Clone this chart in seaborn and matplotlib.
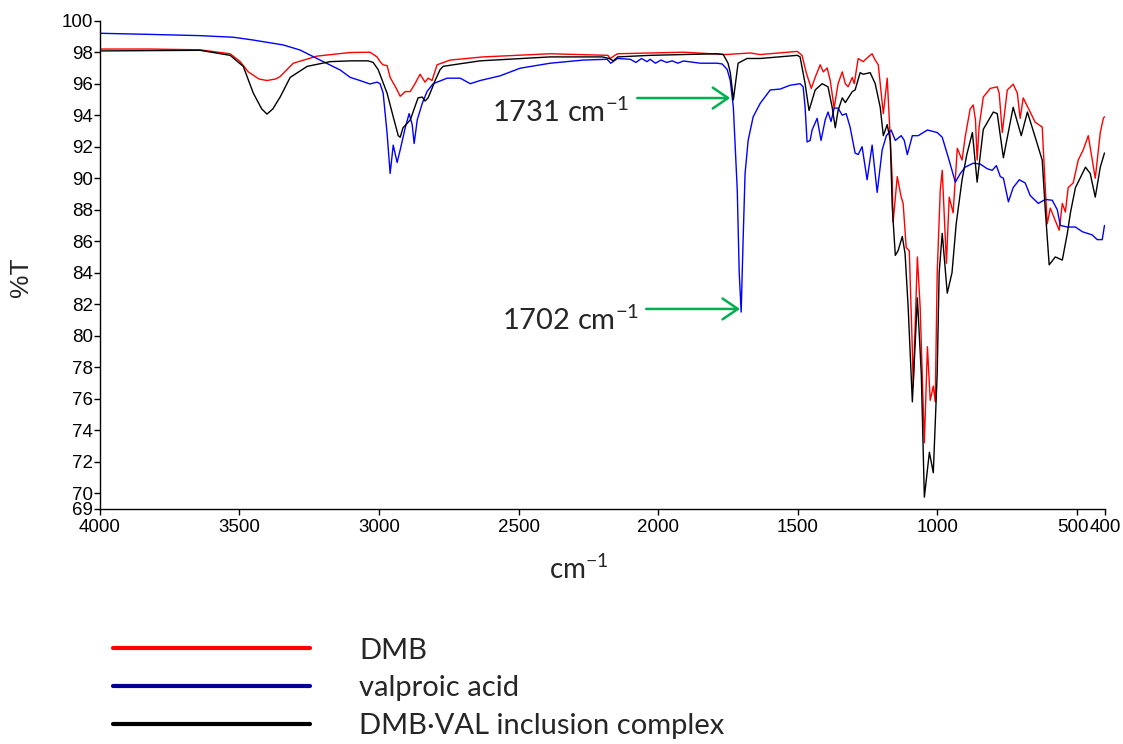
import numpy as np
import pandas as pd
import matplotlib.pyplot as plt
import matplotlib.transforms as mtransforms
from matplotlib.lines import Line2D
import seaborn as sns

sns.set_style('ticks')
plt.rcParams['font.family'] = ['Liberation Sans', 'DejaVu Sans']
plt.rcParams['mathtext.fontset'] = 'custom'
plt.rcParams['mathtext.rm'] = 'Lato'

# ---- spectra (wavenumber cm-1, %T) ----
dmb_wn = [4000, 3820, 3641, 3533, 3497, 3468, 3430, 3401, 3370, 3354, 3307, 3222, 3103, 3032,
          3007, 2996, 2986, 2971, 2960, 2935, 2924, 2906, 2888, 2871, 2853, 2835, 2824, 2810,
          2792, 2745, 2627, 2387, 2180, 2172, 2146, 1910, 1760, 1670, 1635, 1502, 1485, 1470,
          1452, 1438, 1420, 1409, 1395, 1384, 1370, 1356, 1341, 1330, 1320, 1305, 1298, 1284,
          1266, 1248, 1234, 1223, 1212, 1194, 1180, 1173, 1162, 1159, 1144, 1130, 1123, 1112,
          1101, 1090, 1087, 1072, 1062, 1047, 1036, 1026, 1015, 1008, 1001, 990, 983, 968,
          958, 944, 929, 912, 901, 883, 872, 864, 858, 851, 836, 811, 786, 779, 768, 750, 729,
          714, 704, 693, 668, 650, 625, 614, 607, 596, 578, 564, 553, 542, 532, 514, 496, 478,
          460, 435, 417, 406, 402]
dmb_t = [98.2, 98.2, 98.15, 97.9, 97.4, 96.75, 96.3, 96.2, 96.3, 96.45, 97.3, 97.75, 97.98, 98.0,
         97.7, 97.4, 97.2, 97.15, 96.4, 95.6, 95.2, 95.5, 95.5, 96.0, 96.6, 96.1, 96.35, 96.2,
         97.2, 97.5, 97.7, 97.9, 97.8, 97.6, 97.9, 98.0, 97.85, 97.95, 97.85, 98.05, 97.8, 96.7,
         95.7, 96.4, 97.2, 96.75, 97.0, 96.2, 94.45, 96.0, 96.75, 96.0, 95.8, 96.4, 96.0, 97.6,
         97.4, 97.7, 97.9, 97.5, 97.2, 94.1, 96.35, 93.9, 89.9, 87.2, 90.1, 88.8, 88.4, 85.6,
         85.4, 79.1, 76.8, 85.0, 81.8, 73.2, 79.3, 75.9, 76.8, 75.8, 84.0, 89.25, 90.5, 84.6,
         88.8, 87.8, 91.9, 91.15, 92.6, 94.4, 94.65, 93.7, 91.15, 93.25, 95.15, 95.7, 95.8, 95.4,
         92.9, 95.6, 95.97, 95.4, 93.8, 95.1, 94.2, 93.55, 93.25, 89.4, 87.1, 88.1, 87.3, 86.7,
         88.4, 87.85, 89.4, 89.7, 91.15, 91.8, 92.7, 90.0, 92.9, 93.8, 93.9]

val_wn = [4000, 3820, 3641, 3522, 3450, 3343, 3283, 3211, 3139, 3103, 3068, 3032, 3007, 2996,
          2985, 2971, 2960, 2949, 2935, 2924, 2906, 2892, 2881, 2874, 2863, 2845, 2828, 2806,
          2756, 2709, 2673, 2638, 2566, 2495, 2387, 2268, 2183, 2170, 2146, 2100, 2080, 2060,
          2040, 2029, 2010, 1990, 1970, 1950, 1930, 1910, 1849, 1789, 1771, 1753, 1742, 1731,
          1717, 1710, 1703, 1696, 1689, 1678, 1660, 1635, 1599, 1563, 1528, 1492, 1481, 1474,
          1467, 1456, 1449, 1431, 1417, 1402, 1392, 1381, 1370, 1356, 1341, 1327, 1313, 1295,
          1284, 1270, 1252, 1234, 1216, 1198, 1183, 1166, 1151, 1130, 1119, 1108, 1090, 1069,
          1036, 1001, 983, 961, 936, 918, 901, 872, 847, 822, 804, 789, 775, 764, 746, 729,
          707, 686, 668, 639, 614, 589, 571, 560, 535, 506, 481, 446, 428, 410, 402]
val_t = [99.2, 99.13, 99.05, 98.95, 98.77, 98.46, 98.14, 97.5, 96.87, 96.4, 96.2, 95.98, 96.1, 96.0,
         95.4, 92.85, 90.3, 92.1, 91.0, 91.8, 93.2, 94.1, 93.4, 92.2, 93.7, 94.75, 95.5, 96.0,
         96.35, 96.35, 96.0, 96.2, 96.5, 96.98, 97.3, 97.5, 97.55, 97.3, 97.6, 97.55, 97.35, 97.6,
         97.4, 97.55, 97.3, 97.5, 97.35, 97.45, 97.3, 97.44, 97.3, 97.3, 97.25, 96.9, 96.2, 94.5,
         89.25, 84.0, 81.5, 86.1, 90.3, 92.4, 93.9, 94.75, 95.6, 95.66, 95.9, 96.0, 95.8, 94.5,
         92.3, 92.4, 93.06, 93.8, 92.4, 93.7, 94.2, 93.6, 94.45, 94.45, 94.0, 94.1, 93.25, 91.6,
         91.5, 92.0, 89.9, 92.1, 89.1, 91.8, 92.7, 93.06, 92.4, 92.7, 92.4, 91.5, 92.7, 92.7,
         93.06, 92.9, 92.6, 91.3, 89.75, 90.3, 90.7, 90.95, 90.9, 90.6, 90.5, 90.8, 90.1, 90.0,
         88.5, 89.4, 89.9, 89.7, 88.9, 88.4, 88.65, 88.6, 88.0, 87.0, 86.9, 86.9, 86.6, 86.4,
         86.1, 86.1, 87.0]

cplx_wn = [4000, 3820, 3641, 3533, 3486, 3450, 3420, 3401, 3380, 3354, 3318, 3257, 3175, 3100,
           3039, 3021, 3003, 2971, 2949, 2931, 2924, 2914, 2888, 2860, 2845, 2835, 2824, 2810,
           2799, 2781, 2770, 2734, 2638, 2387, 2200, 2175, 2161, 2145, 2029, 1789, 1767, 1750,
           1742, 1736, 1731, 1725, 1714, 1682, 1635, 1502, 1492, 1474, 1460, 1438, 1413, 1392,
           1377, 1366, 1356, 1341, 1330, 1305, 1295, 1277, 1266, 1241, 1223, 1205, 1194, 1180,
           1169, 1162, 1151, 1141, 1126, 1116, 1105, 1090, 1072, 1058, 1047, 1029, 1015, 1001,
           994, 983, 965, 948, 933, 912, 895, 875, 858, 836, 800, 786, 764, 729, 700, 678, 650,
           625, 614, 600, 578, 553, 535, 524, 506, 470, 453, 435, 417, 402]
cplx_t = [98.08, 98.1, 98.12, 97.8, 97.1, 95.4, 94.4, 94.07, 94.4, 95.15, 96.4, 97.1, 97.4, 97.45,
          97.45, 97.35, 96.9, 95.4, 93.9, 92.7, 92.6, 93.2, 93.7, 95.1, 95.15, 94.9, 95.1, 95.7,
          96.2, 96.9, 97.1, 97.2, 97.45, 97.7, 97.7, 97.6, 97.45, 97.7, 97.8, 97.9, 97.85, 97.3,
          96.7, 95.8, 94.97, 95.8, 97.3, 97.6, 97.6, 97.8, 97.7, 96.0, 94.3, 95.6, 96.0, 95.8,
          94.5, 93.2, 94.3, 95.1, 94.8, 95.5, 95.6, 96.7, 96.6, 96.7, 96.0, 94.5, 92.7, 93.4,
          92.4, 88.2, 85.1, 85.4, 86.3, 85.2, 81.8, 75.8, 82.4, 77.6, 69.75, 72.6, 71.3, 77.6,
          84.0, 86.5, 82.7, 84.0, 87.1, 89.9, 91.5, 92.9, 89.75, 93.1, 94.2, 94.1, 91.3, 94.5,
          92.7, 94.2, 92.6, 91.15, 88.0, 84.5, 85.0, 84.8, 86.5, 87.8, 89.4, 90.7, 90.3, 88.8,
          90.7, 91.6]

labels = ['DMB', 'valproic acid', 'DMB·VAL inclusion complex']
line_colors = ['#ff0000', '#0000ff', '#000000']
legend_colors = ['#ff0000', '#000099', '#000000']

x_ticks = [4000, 3500, 3000, 2500, 2000, 1500, 1000, 500, 400]
y_ticks = [69] + list(range(70, 101, 2))

# peak annotations: text, text position, arrow start, arrow end
peak_text = ['1731 cm$^{\\mathregular{-1}}$', '1702 cm$^{\\mathregular{-1}}$']
peak_text_xy = [(2595, 93.57), (2559, 80.36)]
peak_arrow_from = [(2075, 95.09), (2043, 81.7)]
peak_arrow_to = [(1742, 95.09), (1707, 81.7)]

df = pd.concat([
    pd.DataFrame({'wn': dmb_wn, 'T': dmb_t, 'sample': labels[0]}),
    pd.DataFrame({'wn': val_wn, 'T': val_t, 'sample': labels[1]}),
    pd.DataFrame({'wn': cplx_wn, 'T': cplx_t, 'sample': labels[2]}),
])

fig = plt.figure(figsize=(11.23, 7.44), dpi=100)
ax = fig.add_axes([0.0888, 0.3159, 0.8952, 0.6563])

sns.lineplot(data=df, x='wn', y='T', hue='sample', hue_order=labels,
             palette=dict(zip(labels, line_colors)), estimator=None, sort=False,
             lw=1.0, legend=False, ax=ax)

ax.set_xlim(4000, 400)
ax.set_ylim(69, 100)
ax.set_xticks(x_ticks)
ax.set_yticks(y_ticks)
ax.tick_params(axis='both', direction='out', length=4, width=1, labelsize=13.5, colors='black')
ax.tick_params(axis='y', pad=1)
for s in ['top', 'right']:
    ax.spines[s].set_visible(False)
for s in ['left', 'bottom']:
    ax.spines[s].set_linewidth(1.0)
    ax.spines[s].set_color('black')

# the last two x labels sit side by side ("500400"), nudge them apart
for lab in ax.get_xticklabels():
    if lab.get_text() == '500':
        lab.set_transform(lab.get_transform() + mtransforms.ScaledTranslation(-4 / 100, 0, fig.dpi_scale_trans))

ax.set_ylabel('%T', fontsize=19)
ax.yaxis.set_label_coords(-0.0663, 0.475)
ax.set_xlabel('cm$^{\\mathregular{-1}}$', fontsize=20, family='Lato')
ax.xaxis.set_label_coords(0.4768, -0.092)

for txt, txy, a0, a1 in zip(peak_text, peak_text_xy, peak_arrow_from, peak_arrow_to):
    ax.text(txy[0], txy[1], txt, fontsize=21, family='Lato', ha='left', va='baseline')
    ax.annotate('', xy=a1, xytext=a0,
                arrowprops=dict(arrowstyle='->,head_length=1.1,head_width=0.75',
                                color='#00b050', lw=1.8, mutation_scale=10,
                                shrinkA=0, shrinkB=0))

handles = [Line2D([0], [0], color=c, lw=3) for c in legend_colors]
fig.legend(handles, labels, loc='upper left', bbox_to_anchor=(0.1006, 0.143),
           frameon=False, borderaxespad=0, borderpad=0, handlelength=6.75,
           handletextpad=1.7, labelspacing=0.4, prop={'family': 'Lato', 'size': 21})

fig.savefig('out.png', dpi=100)
